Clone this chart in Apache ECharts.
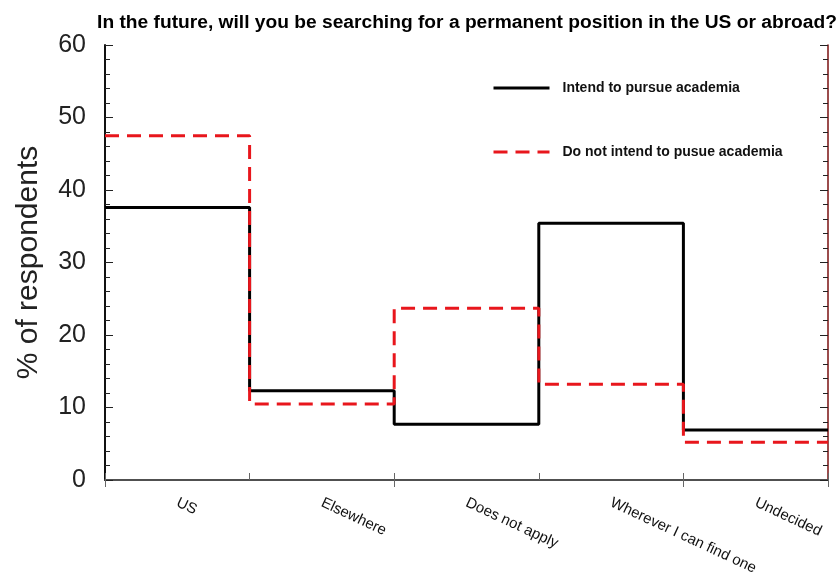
<!DOCTYPE html>
<html>
<head>
<meta charset="utf-8">
<script src="https://cdn.jsdelivr.net/npm/echarts@6/dist/echarts.min.js"></script>
<style>
html,body{margin:0;padding:0;background:#fff;overflow:hidden;}
#chart{width:838px;height:576px;}
</style>
</head>
<body>
<div id="chart"></div>
<script>
var titleText = 'In the future, will you be searching for a permanent position in the US or abroad?';
var categories = ['US', 'Elsewhere', 'Does not apply', 'Wherever I can find one', 'Undecided'];
var seriesNames = ['Intend to pursue academia', 'Do not intend to pusue academia'];
var academia = [37.6, 12.3, 7.7, 35.4, 6.9];
var nonAcademia = [47.5, 10.5, 23.7, 13.2, 5.2];
var yTicks = [0, 10, 20, 30, 40, 50, 60];

function stepData(vals) {
  var d = vals.map(function (v, i) { return [i, v]; });
  d.push([vals.length, vals[vals.length - 1]]);
  return d;
}

var chart = echarts.init(document.getElementById('chart'));
var fam = '"Liberation Sans", Arial, Helvetica, sans-serif';
chart.setOption({
  animation: false,
  backgroundColor: '#fff',
  title: {
    text: titleText,
    left: 462, top: 8, textAlign: 'center',
    textStyle: { fontFamily: fam, fontWeight: 'bold', fontSize: 19.2, color: '#000' }
  },
  grid: { left: 105, right: 10, top: 45, bottom: 96, containLabel: false, outerBoundsMode: 'none' },
  legend: {
    orient: 'vertical',
    left: 487, top: 76,
    itemWidth: 56, itemHeight: 14, itemGap: 50,
    data: seriesNames,
    itemStyle: { opacity: 0 },
    lineStyle: { width: 3 },
    textStyle: { fontFamily: fam, fontWeight: 'bold', fontSize: 14, color: '#111', padding: [0, 0, 0, 8] }
  },
  xAxis: [
    {
      type: 'category', position: 'bottom', data: categories, boundaryGap: true,
      axisLine: { show: true, lineStyle: { color: '#111', width: 2 } },
      axisTick: { show: true, inside: true, length: 7, lineStyle: { color: '#666', width: 1 } },
      axisLabel: { rotate: -25, margin: 22, fontFamily: fam, fontSize: 15, color: '#111', interval: 0 },
      splitLine: { show: false }
    },
    {
      type: 'category', position: 'top', data: categories, boundaryGap: true,
      axisLine: { show: true, lineStyle: { color: '#666', width: 1.5 } },
      axisTick: { show: true, inside: true, length: 7, lineStyle: { color: '#666', width: 1 } },
      axisLabel: { show: false }, splitLine: { show: false }
    },
    {
      type: 'value', min: 0, max: categories.length, show: false
    }
  ],
  yAxis: [
    {
      type: 'value', min: 0, max: 60, interval: 10, position: 'left',
      name: '% of respondents', nameLocation: 'middle', nameGap: 61,
      nameTextStyle: { fontFamily: fam, fontSize: 30, color: '#222' },
      axisLine: { show: true, lineStyle: { color: '#111', width: 2 } },
      axisTick: { show: true, inside: true, length: 8, lineStyle: { color: '#222', width: 1 } },
      minorTick: { show: true, splitNumber: 5, length: 5, lineStyle: { color: '#222', width: 1 } },
      axisLabel: { margin: 19, fontFamily: fam, fontSize: 25, color: '#222' },
      splitLine: { show: false }, minorSplitLine: { show: false }
    },
    {
      type: 'value', min: 0, max: 60, interval: 10, position: 'right',
      axisLine: { show: true, lineStyle: { color: '#7a1010', width: 1.5 } },
      axisTick: { show: true, inside: true, length: 8, lineStyle: { color: '#222', width: 1 } },
      minorTick: { show: true, splitNumber: 5, length: 5, lineStyle: { color: '#222', width: 1 } },
      axisLabel: { show: false },
      splitLine: { show: false }, minorSplitLine: { show: false }
    }
  ],
  series: [
    {
      name: seriesNames[0], type: 'line', step: 'end', xAxisIndex: 2, yAxisIndex: 0,
      data: stepData(academia), symbol: 'none', silent: true,
      itemStyle: { color: '#000' },
      lineStyle: { color: '#000', width: 3, type: 'solid' }
    },
    {
      name: seriesNames[1], type: 'line', step: 'end', xAxisIndex: 2, yAxisIndex: 0,
      data: stepData(nonAcademia), symbol: 'none', silent: true,
      itemStyle: { color: '#e8161c' },
      lineStyle: { color: '#e8161c', width: 3, type: [14, 8] }
    }
  ]
});
</script>
</body>
</html>
